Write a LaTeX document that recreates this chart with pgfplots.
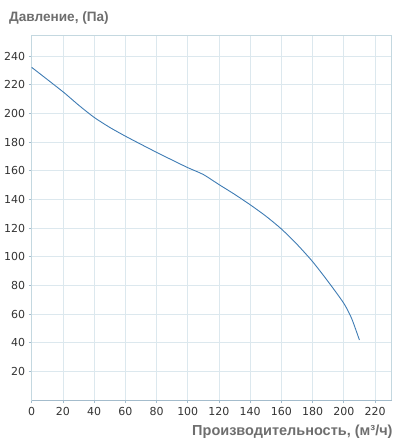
\documentclass[border=0pt]{standalone}
\usepackage{pgfplots}
\pgfplotsset{compat=1.18}
\usepackage{fontspec}
\setmainfont{DejaVu Sans}
\newfontfamily\labfont{Liberation Sans}
\definecolor{gridc}{HTML}{DCE8EE}
\definecolor{borderc}{HTML}{C4D8E0}
\definecolor{axisc}{HTML}{A4BCCC}
\definecolor{curvec}{HTML}{3F7CB4}
\definecolor{labc}{HTML}{6E6E6E}
\definecolor{tickc}{HTML}{333333}
\begin{document}
\begin{tikzpicture}[x=1pt,y=1pt]
\begin{axis}[
  at={(0,0)}, anchor=south west,
  scale only axis,
  width=360pt, height=365pt,
  xmin=0, xmax=230.7, ymin=0, ymax=254.8,
  xtick={0,20,...,220}, ytick={20,40,...,240},
  grid=major,
  major grid style={draw=gridc, line width=0.8pt},
  axis line style={draw=borderc, line width=0.8pt},
  tick style={draw=axisc, line width=0.8pt},
  major tick length=3pt,
  tick align=outside,
  xtick pos=bottom, ytick pos=left,
  ticklabel style={font=\fontsize{11}{13}\selectfont, text=tickc},
  /pgf/number format/assume math mode=true,
  xticklabel style={yshift=-1pt},
  clip=false,
]
\addplot[curvec, line width=0.9pt, smooth, tension=0.4] coordinates {
(0,232.2) (20,215.2) (30,205.9) (40,197.3) (50,190.3) (60,184.2)
(70,178.5) (80,172.9) (90,167.5) (100,162.2) (110,157.4) (120,150.4)
(130,143.6) (140,136.3) (150,128.4) (160,119.4) (170,108.7) (180,96.6)
(190,82.6) (200,67.5) (205,57.0) (210,41.9)
};
\draw[axisc, line width=0.8pt] (axis cs:0,0) -- (axis cs:230.7,0);
\end{axis}
\node[anchor=west, text=labc, font=\labfont\bfseries\fontsize{13.6}{16}\selectfont, inner sep=0pt] at (-22.7,382) {Давление, (Па)};
\node[anchor=east, text=labc, font=\labfont\bfseries\fontsize{14.5}{17}\selectfont, inner sep=0pt] at (361,-32) {Производительность, (м³/ч)};
\pgfresetboundingbox
\useasboundingbox (-31.7,-41) rectangle (371.3,400);
\end{tikzpicture}
\end{document}
